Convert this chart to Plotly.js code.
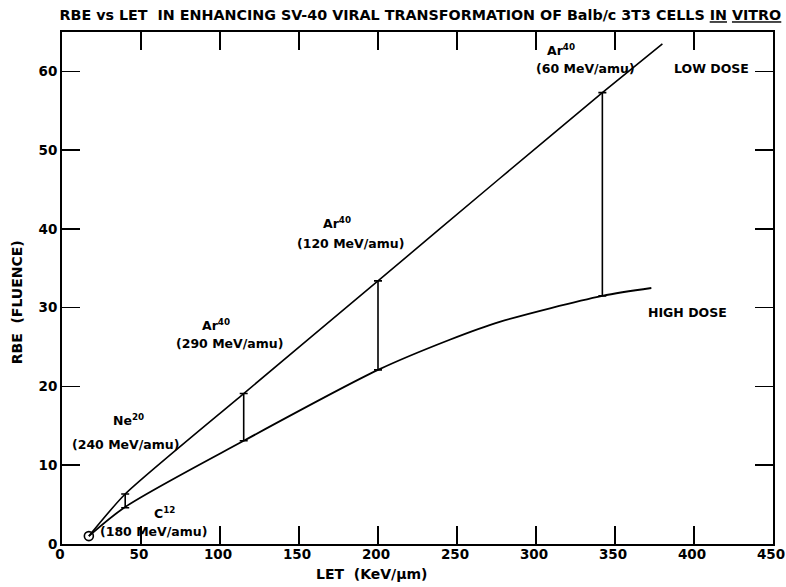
<!DOCTYPE html>
<html>
<head>
<meta charset="utf-8">
<script src="https://cdn.plot.ly/plotly-3.0.1.min.js"></script>
<style>html,body{margin:0;padding:0;background:#fff;}#chart{width:786px;height:587px;}</style>
</head>
<body>
<div id="chart"></div>
<script>
// LET (KeV/µm) and RBE (fluence) values
const lowDoseLET = [17, 40, 115, 200, 277, 342, 380];
const lowDoseRBE = [1, 6.35, 19.1, 33.4, 46.4, 57.3, 63.5];
const highDoseLET = [17, 40, 115, 200, 245, 277, 342, 373];
const highDoseRBE = [1, 4.7, 13.1, 22.1, 25.9, 28.2, 31.5, 32.5];
const barLET = [40, 115, 200, 342];
const barLow = [4.6, 13.1, 22.1, 31.5];
const barHigh = [6.35, 19.1, 33.4, 57.3];
const originLET = [17];
const originRBE = [1];
const ionNames = ["C<sup>12</sup>", "Ne<sup>20</sup>", "Ar<sup>40</sup>", "Ar<sup>40</sup>", "Ar<sup>40</sup>"];
const ionNameLET = [65, 42, 97.5, 174, 316];
const ionNameRBE = [3.9, 15.7, 27.8, 40.8, 62.7];
const ionEnergies = ["(180 MeV/amu)", "(240 MeV/amu)", "(290 MeV/amu)", "(120 MeV/amu)", "(60 MeV/amu)"];
const ionEnergyLET = [57.6, 39.9, 105.7, 182.3, 331.6];
const ionEnergyRBE = [1.65, 12.6, 25.4, 38.2, 60.4];
const doseLabels = ["LOW DOSE", "HIGH DOSE"];
const doseLabelLET = [411, 396];
const doseLabelRBE = [60.4, 29.4];
const xTicks = [0, 50, 100, 150, 200, 250, 300, 350, 400, 450];
const yTicks = [0, 10, 20, 30, 40, 50, 60];

const FONT = "DejaVu Sans, Liberation Sans, sans-serif";
const txt = (size) => ({family: FONT, size: size, color: '#000', weight: 'bold'});

const traces = [
  {x: lowDoseLET, y: lowDoseRBE, mode: 'lines', line: {color: '#000', width: 1.6, shape: 'spline', smoothing: 0.6}, hoverinfo: 'skip'},
  {x: highDoseLET, y: highDoseRBE, mode: 'lines', line: {color: '#000', width: 1.8, shape: 'spline', smoothing: 0.8}, hoverinfo: 'skip'},
  {x: barLET, y: barLow, mode: 'markers', marker: {size: 1, color: 'rgba(0,0,0,0)'},
   error_y: {type: 'data', symmetric: false, array: barHigh.map((h, i) => h - barLow[i]), arrayminus: barLow.map(() => 0), color: '#000', thickness: 1.6, width: 4}, hoverinfo: 'skip'},
  {x: originLET, y: originRBE, mode: 'markers', marker: {symbol: 'circle-open', size: 9, color: '#000', line: {width: 1.6}}, hoverinfo: 'skip'}
];

const annotations = [];
ionNames.forEach((t, i) => annotations.push({x: ionNameLET[i], y: ionNameRBE[i], xref: 'x', yref: 'y', text: t, showarrow: false, font: txt(12.5)}));
ionEnergies.forEach((t, i) => annotations.push({x: ionEnergyLET[i], y: ionEnergyRBE[i], xref: 'x', yref: 'y', text: t, showarrow: false, font: txt(12.5)}));
doseLabels.forEach((t, i) => annotations.push({x: doseLabelLET[i], y: doseLabelRBE[i], xref: 'x', yref: 'y', text: t, showarrow: false, font: txt(12.5)}));
annotations.push({x: 0.436, y: -0.058, xref: 'paper', yref: 'paper', xanchor: 'center', yanchor: 'middle', text: 'LET  (KeV/µm)', showarrow: false, font: txt(14)});
annotations.push({x: -0.064, y: 0.473, xref: 'paper', yref: 'paper', xanchor: 'center', yanchor: 'middle', text: 'RBE  (FLUENCE)', textangle: -90, showarrow: false, font: txt(14)});

const axisCommon = {showline: true, linecolor: '#000', linewidth: 2, mirror: 'ticks', ticks: 'inside', ticklen: 18, tickwidth: 1.6, tickcolor: '#000', showgrid: false, zeroline: false, tickfont: txt(13.5), ticklabeloverflow: 'allow'};

const layout = {
  width: 786, height: 587,
  paper_bgcolor: '#fff', plot_bgcolor: '#fff',
  margin: {l: 62, r: 13, t: 32, b: 43},
  showlegend: false,
  title: {text: 'RBE vs LET  IN ENHANCING SV-40 VIRAL TRANSFORMATION OF Balb/c 3T3 CELLS <u>IN</u> <u>VITRO</u>', font: txt(14.3), x: 0.994, xanchor: 'right', xref: 'container', y: 0.974, yanchor: 'middle', yref: 'container'},
  xaxis: Object.assign({}, axisCommon, {range: [0, 450], tickvals: xTicks, ticktext: xTicks.map(String), ticklabelstandoff: -3, ticklabelshift: -2}),
  yaxis: Object.assign({}, axisCommon, {range: [0, 65], tickvals: yTicks, ticktext: yTicks.map(String)}),
  annotations: annotations
};

Plotly.newPlot('chart', traces, layout, {displayModeBar: false, staticPlot: true});
</script>
</body>
</html>
